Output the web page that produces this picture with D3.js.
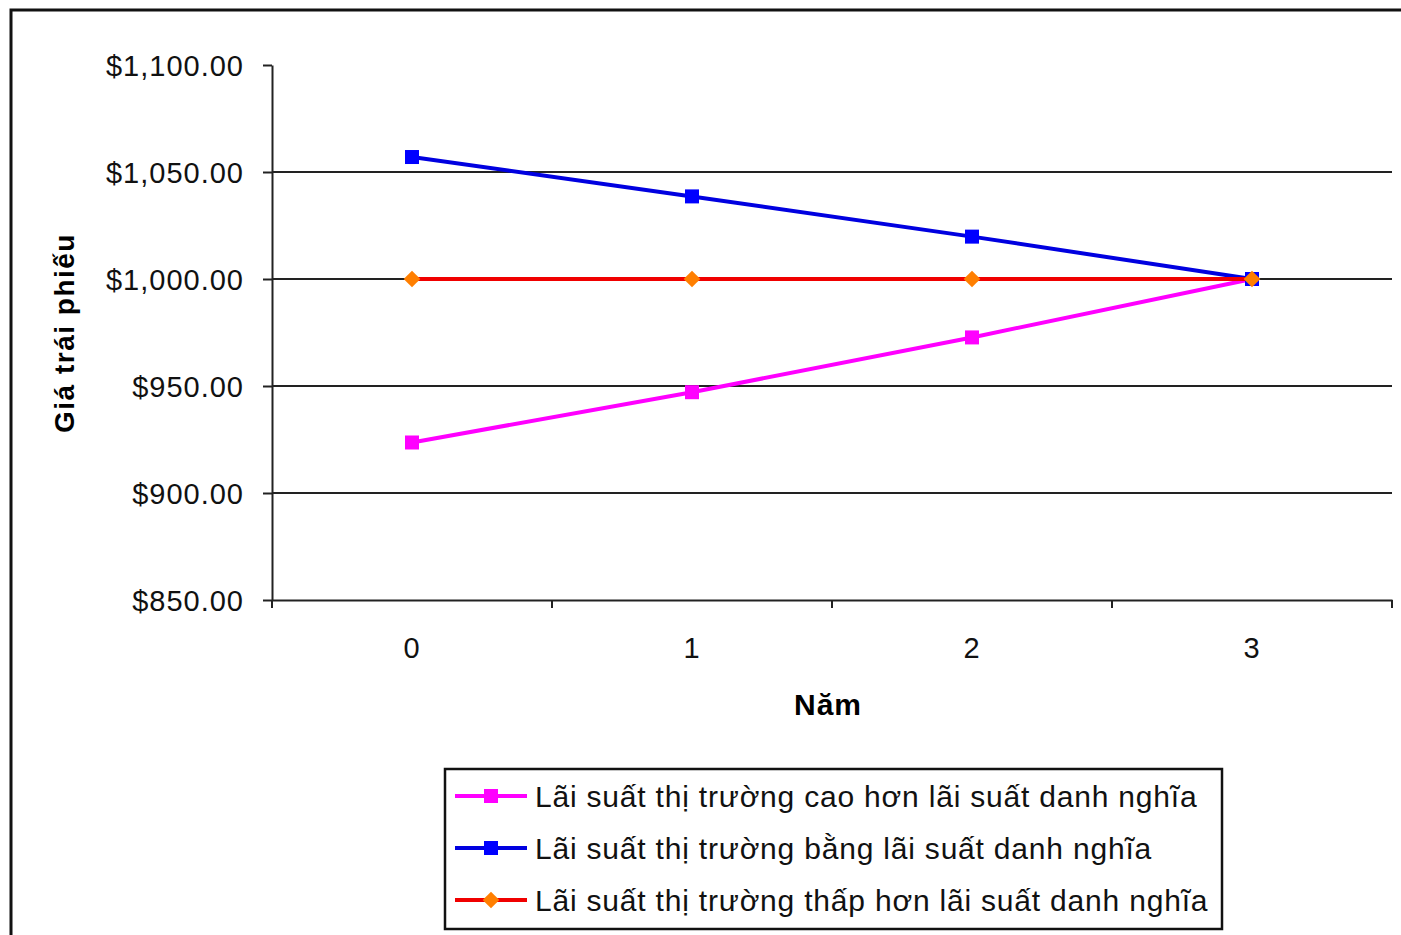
<!DOCTYPE html>
<html>
<head>
<meta charset="utf-8">
<script src="https://cdn.jsdelivr.net/npm/d3@7"></script>
<style>
  body { margin: 0; background: #fff; }
  svg { display: block; font-family: "Liberation Sans", Arial, sans-serif; }
  .axis path, .axis line { stroke: #222; stroke-width: 2; }
  .axis text { font-size: 29px; fill: #111; letter-spacing: 1px; }
  .grid line { stroke: #222; stroke-width: 2; }
  .legend text { font-size: 30px; fill: #111; letter-spacing: 0.8px; }
</style>
</head>
<body>
<div id="chart"></div>
<script>
// data
const years = ["0", "1", "2", "3"];
const caoHon = [923.6, 947.1, 972.7, 1000];
const bang = [1057.0, 1038.6, 1019.8, 1000];
const thapHon = [1000, 1000, 1000, 1000];
const yTicks = [850, 900, 950, 1000, 1050, 1100];

const series = [
  { name: "Lãi suất thị trường cao hơn lãi suất danh nghĩa", values: caoHon, line: "#ff00ff", fill: "#ff00ff", shape: "square" },
  { name: "Lãi suất thị trường bằng lãi suất danh nghĩa", values: bang, line: "#0000e0", fill: "#0000ff", shape: "square" },
  { name: "Lãi suất thị trường thấp hơn lãi suất danh nghĩa", values: thapHon, line: "#f00000", fill: "#ff7f00", shape: "diamond" }
];

const width = 1401, height = 935;
const plot = { left: 272, right: 1392, top: 65, bottom: 600 };

const svg = d3.select("#chart").append("svg")
  .attr("width", width)
  .attr("height", height);

// outer frame (runs off the picture at right and bottom)
svg.append("rect")
  .attr("x", 11).attr("y", 10)
  .attr("width", width + 20).attr("height", height + 20)
  .attr("fill", "#fff")
  .attr("stroke", "#111")
  .attr("stroke-width", 3);

const x = d3.scalePoint().domain(years).range([plot.left, plot.right]).padding(0.5);
const xBand = d3.scaleBand().domain(years).range([plot.left, plot.right]);
const y = d3.scaleLinear().domain([850, 1100]).range([plot.bottom, plot.top]);

// gridlines
svg.append("g").attr("class", "grid")
  .selectAll("line")
  .data(yTicks.filter(d => d > 850 && d < 1100))
  .join("line")
  .attr("x1", plot.left).attr("x2", plot.right)
  .attr("y1", d => y(d)).attr("y2", d => y(d));

// y axis
const yAxis = svg.append("g").attr("class", "axis")
  .attr("transform", `translate(${plot.left},0)`)
  .call(d3.axisLeft(y).tickValues(yTicks).tickSize(9).tickSizeOuter(0)
    .tickFormat(d => "$" + d3.format(",.2f")(d)));
yAxis.selectAll("text").attr("x", -28).attr("dy", "0.35em");

// x axis
const xAxis = svg.append("g").attr("class", "axis")
  .attr("transform", `translate(0,${plot.bottom})`)
  .call(d3.axisBottom(xBand).tickSize(0).tickSizeOuter(0));
xAxis.selectAll("text").attr("dy", "1.45em").attr("y", 16);
xAxis.selectAll(".bound")
  .data(d3.range(years.length + 1))
  .join("line")
  .attr("class", "bound")
  .attr("x1", i => plot.left + i * xBand.step())
  .attr("x2", i => plot.left + i * xBand.step())
  .attr("y1", 0).attr("y2", 8);

// axis titles
svg.append("text")
  .attr("x", 828)
  .attr("y", 715)
  .attr("text-anchor", "middle")
  .attr("font-size", 30).attr("font-weight", "bold")
  .attr("letter-spacing", 1)
  .text("Năm");

svg.append("text")
  .attr("transform", "translate(74,333) rotate(-90)")
  .attr("text-anchor", "middle")
  .attr("font-size", 28).attr("font-weight", "bold")
  .attr("letter-spacing", 1.5)
  .text("Giá trái phiếu");

// lines
const line = d3.line().x((d, i) => x(years[i])).y(d => y(d));

function marker(sel, s, size) {
  if (s.shape === "square") {
    sel.append("rect")
      .attr("x", -size / 2).attr("y", -size / 2)
      .attr("width", size).attr("height", size)
      .attr("fill", s.fill);
  } else {
    sel.append("path")
      .attr("d", d3.symbol(d3.symbolDiamond2, size * size * 0.9)())
      .attr("fill", s.fill);
  }
}

series.forEach(s => {
  svg.append("path")
    .datum(s.values)
    .attr("fill", "none")
    .attr("stroke", s.line)
    .attr("stroke-width", 4)
    .attr("d", line);
});
series.forEach(s => {
  svg.append("g").selectAll("g")
    .data(s.values)
    .join("g")
    .attr("transform", (d, i) => `translate(${x(years[i])},${y(d)})`)
    .each(function () { marker(d3.select(this), s, 14); });
});

// legend
const legend = svg.append("g").attr("class", "legend");
legend.append("rect")
  .attr("x", 445).attr("y", 769)
  .attr("width", 777).attr("height", 160)
  .attr("fill", "#fff").attr("stroke", "#111").attr("stroke-width", 2.5);

const rows = legend.selectAll("g.row")
  .data(series)
  .join("g")
  .attr("class", "row")
  .attr("transform", (d, i) => `translate(455,${796 + i * 52})`);
rows.append("line")
  .attr("x1", 0).attr("x2", 72)
  .attr("stroke", d => d.line).attr("stroke-width", 4);
rows.append("g")
  .attr("transform", "translate(36,0)")
  .each(function (d) { marker(d3.select(this), d, 14); });
rows.append("text")
  .attr("x", 80).attr("dy", "0.36em")
  .text(d => d.name);
</script>
</body>
</html>
